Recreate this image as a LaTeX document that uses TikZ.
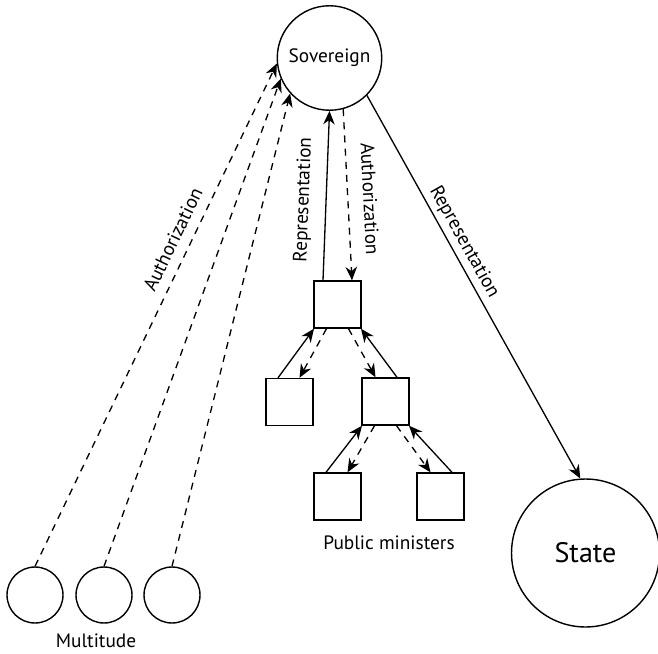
\documentclass[tikz,border=0pt]{standalone}
\usepackage{fontspec}
\setmainfont{PT Sans}
\usetikzlibrary{arrows.meta,calc}

\begin{document}
\begin{tikzpicture}[x=0.02cm,y=0.02cm,
  every node/.style={font=\fontsize{11}{13}\selectfont},
  person/.style={draw,circle,line width=.8pt,inner sep=0pt},
  office/.style={draw,rectangle,line width=.8pt,minimum size=0.94cm,inner sep=0pt},
  rep/.style={line width=.75pt,-{Stealth[length=2.7mm,width=2.3mm]}},
  auth/.style={rep,dash pattern=on 4pt off 3.5pt},
  lbl/.style={sloped}]
  \useasboundingbox (0,0) rectangle (658,653);

  % Sovereign and state
  \node[person,minimum size=2.09cm] (sov) at (329.5,595) {Sovereign};
  \node[person,minimum size=2.96cm,font=\fontsize{16}{19}\selectfont] (state) at (585.5,100) {State};

  % Multitude
  \node[person,minimum size=1.12cm] (m1) at (35,58) {};
  \node[person,minimum size=1.12cm] (m2) at (104,58) {};
  \node[person,minimum size=1.12cm] (m3) at (172,58) {};
  \node (multlbl) at (96,12) {Multitude};

  % Public ministers
  \node[office] (min0) at (337.5,348.5) {};
  \node[office] (min1) at (289.5,251) {};
  \node[office] (min2) at (385.5,251.5) {};
  \node[office] (min3) at (337.5,156.5) {};
  \node[office] (min4) at (440.5,156.5) {};
  \node (pmlbl) at (389,110) {Public ministers};

  % Authorization from the multitude
  \draw[auth] (m1.north) -- node[lbl,above=2.3pt,pos=.635] {Authorization} (sov.186);
  \draw[auth] (m2.north) -- (sov.203);
  \draw[auth] (m3.north) -- (sov.222);

  % Sovereign and the first minister
  \draw[rep] ($(min0.north)+(-14.5,0)$) -- node[lbl,above=4pt,pos=.47] {Representation} (sov.south);
  \draw[auth] (sov.285) -- node[lbl,above=5pt,pos=.53] {Authorization} ($(min0.north)+(14.5,0)$);

  % Sovereign represents the state
  \draw[rep] (sov.315) -- node[lbl,above=-1pt,pos=.4] {Representation} (state.94);

  % Links between ministers (s = -1 left child, 1 right child)
  \foreach \p/\c/\s in {min0/min1/-1, min0/min2/1, min2/min3/-1, min2/min4/1} {
    \draw[rep] ($(\c.north)+({11.5*\s},0)$) -- ($(\p.south)+({23.5*\s},0)$);
    \draw[auth] ($(\p.south)+({11*\s},0)$) -- ($(\c.north)+({-10*\s},0)$);
  }
\end{tikzpicture}
\end{document}
